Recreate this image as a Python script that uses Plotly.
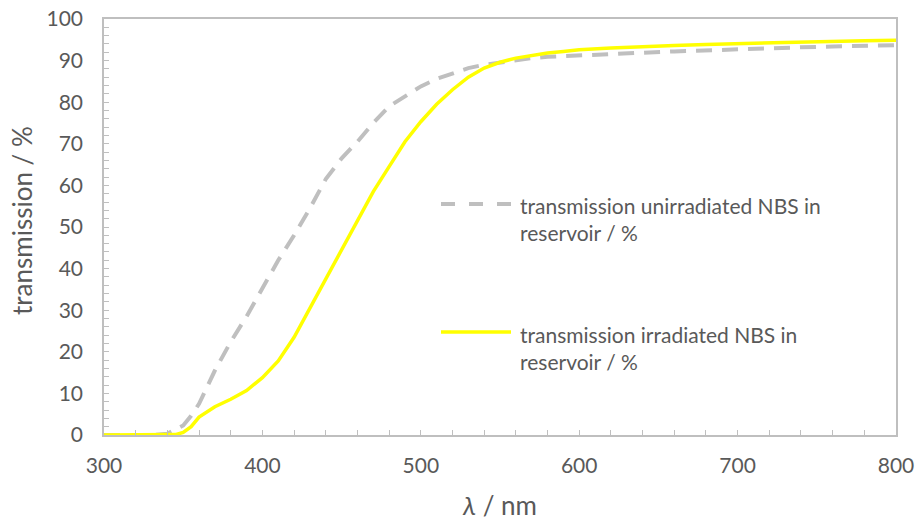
import plotly.graph_objects as go

# Wavelength grid (nm)
wavelength = [300, 310, 320, 330, 340, 345, 350, 355, 360, 370, 380, 390, 400, 410, 420,
              430, 440, 450, 460, 470, 480, 490, 500, 510, 520, 530, 540, 550, 560,
              570, 580, 590, 600, 620, 640, 660, 680, 700, 720, 740, 760, 780, 800]

# Transmission of unirradiated NBS in reservoir (%)
t_unirradiated = [0, 0, 0, 0, 0.3, 1.2, 2.3, 4.6, 7.5, 15.5, 22.4, 28.5, 35.5, 42.0, 48.0,
                  54.5, 61.5, 66.5, 70.5, 75.0, 79.0, 81.5, 83.8, 85.6, 87.0, 88.2, 89.0,
                  89.6, 90.2, 90.6, 90.9, 91.1, 91.3, 91.6, 91.9, 92.2, 92.5, 92.8, 93.0,
                  93.2, 93.4, 93.6, 93.7]

# Transmission of irradiated NBS in reservoir (%)
t_irradiated = [0, 0, 0, 0, 0, 0.1, 0.6, 2.0, 4.3, 6.8, 8.6, 10.7, 13.8, 17.8, 23.5,
                30.5, 37.5, 44.5, 51.5, 58.5, 64.5, 70.5, 75.3, 79.5, 83.0, 86.0, 88.2,
                89.6, 90.6, 91.3, 91.8, 92.2, 92.6, 93.0, 93.4, 93.6, 93.9, 94.1, 94.3,
                94.5, 94.7, 94.8, 94.9]

legend_labels = ["transmission unirradiated NBS in<br>reservoir / %",
                 "transmission irradiated NBS in<br>reservoir / %"]
x_title = "<i>λ</i> / nm"
y_title = "transmission / %"

GRAY = "#BFBFBF"
YELLOW = "#FFFF00"
TEXT = "#595959"
FONT = "Lato"

fig = go.Figure()
fig.add_trace(go.Scatter(x=wavelength, y=t_unirradiated, mode="lines",
                         line=dict(color=GRAY, width=4, dash="16px,10px"),
                         name=legend_labels[0], showlegend=False))
fig.add_trace(go.Scatter(x=wavelength, y=t_irradiated, mode="lines",
                         line=dict(color=YELLOW, width=3.5),
                         name=legend_labels[1], showlegend=False))

# Plot area geometry in pixels (used to place the legend and axis titles)
W, H = 920, 523
L, R, T, B = 104, 24, 19, 88
pw, ph = W - L - R, H - T - B

def px(x):
    return (x - L) / pw

def py(y):
    return (H - B - y) / ph

legend_items = [
    (legend_labels[0], GRAY, "14px,14px", 4, 204, 219),
    (legend_labels[1], YELLOW, "solid", 3.5, 332, 347.5),
]
for label, color, dash, width, line_y, text_y in legend_items:
    fig.add_shape(type="line", xref="paper", yref="paper",
                  x0=px(441), x1=px(511), y0=py(line_y), y1=py(line_y),
                  line=dict(color=color, width=width, dash=dash))
    fig.add_annotation(xref="paper", yref="paper", x=px(518), y=py(text_y),
                       text=label, showarrow=False, xanchor="left", yanchor="middle",
                       align="left", font=dict(family=FONT, size=21, color=TEXT))

# Axis titles
fig.add_annotation(xref="paper", yref="paper", x=px(499), y=py(505), text=x_title,
                   showarrow=False, xanchor="center", yanchor="middle",
                   font=dict(family=FONT, size=26, color=TEXT))
fig.add_annotation(xref="paper", yref="paper", x=px(22), y=py(221), text=y_title,
                   showarrow=False, xanchor="center", yanchor="middle", textangle=-90,
                   font=dict(family=FONT, size=26, color=TEXT))

axis_common = dict(showline=True, linecolor=GRAY, linewidth=1.5, mirror=True,
                   showgrid=False, zeroline=False, ticks="inside", ticklen=5,
                   tickcolor=GRAY, tickwidth=1, automargin=False,
                   tickfont=dict(family=FONT, size=21, color=TEXT))

fig.update_xaxes(range=[300, 800], dtick=100, tick0=300, ticklabelstandoff=11,
                 minor=dict(dtick=20, ticks="inside", ticklen=5, tickcolor=GRAY),
                 **axis_common)
fig.update_yaxes(range=[0, 100], dtick=10, tick0=0, ticklabelstandoff=15,
                 minor=dict(dtick=2, ticks="inside", ticklen=5, tickcolor=GRAY),
                 **axis_common)

fig.update_layout(width=W, height=H, margin=dict(l=L, r=R, t=T, b=B),
                  plot_bgcolor="white", paper_bgcolor="white",
                  font=dict(family=FONT, color=TEXT))

fig.write_html("out.html")
